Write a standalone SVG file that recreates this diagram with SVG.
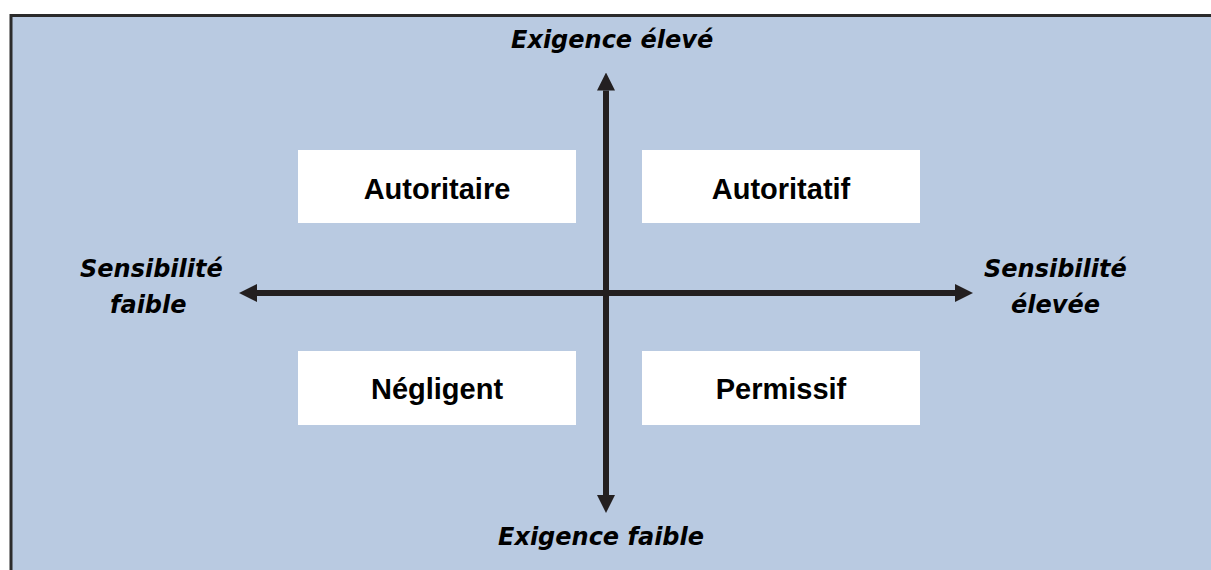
<svg xmlns="http://www.w3.org/2000/svg" width="1211" height="570" viewBox="0 0 1211 570">
  <style>
    .frame { fill: #b9cae1; stroke: #2b2b2b; stroke-width: 3; }
    .box { fill: #ffffff; stroke: none; }
    .boxtxt { font-family: "Liberation Sans", Arial, sans-serif; font-weight: bold; font-size: 29px; fill: #000000; text-anchor: middle; }
    .axtxt { font-family: "DejaVu Sans", Verdana, sans-serif; font-weight: bold; font-style: italic; font-size: 24px; fill: #000000; }
    .axis { stroke: #231f20; stroke-width: 6; fill: none; }
  </style>
  <defs>
    <marker id="arrow" markerUnits="userSpaceOnUse" markerWidth="18" markerHeight="18" refX="0" refY="9" orient="auto-start-reverse">
      <path d="M0,0 L18,9 L0,18 Z" fill="#231f20"/>
    </marker>
  </defs>

  <rect class="frame" x="11" y="15.5" width="1215" height="570"/>

  <g id="connectors">
    <line class="axis" x1="257" y1="293" x2="955" y2="293" marker-start="url(#arrow)" marker-end="url(#arrow)"/>
    <line class="axis" x1="606" y1="90.5" x2="606" y2="495" marker-start="url(#arrow)" marker-end="url(#arrow)"/>
  </g>

  <g id="node-autoritaire">
    <rect class="box" x="298" y="150" width="278" height="73"/>
    <text class="boxtxt" x="437" y="199">Autoritaire</text>
  </g>
  <g id="node-autoritatif">
    <rect class="box" x="642" y="150" width="278" height="73"/>
    <text class="boxtxt" x="781" y="199">Autoritatif</text>
  </g>
  <g id="node-negligent">
    <rect class="box" x="298" y="351" width="278" height="74"/>
    <text class="boxtxt" x="437" y="399">Négligent</text>
  </g>
  <g id="node-permissif">
    <rect class="box" x="642" y="351" width="278" height="74"/>
    <text class="boxtxt" x="781" y="399">Permissif</text>
  </g>

  <g id="label-exigence-eleve">
    <text class="axtxt" x="511" y="48">Exigence élevé</text>
  </g>
  <g id="label-exigence-faible">
    <text class="axtxt" x="498" y="545">Exigence faible</text>
  </g>
  <g id="label-sensibilite-faible">
    <text class="axtxt" x="80" y="277">Sensibilité</text>
    <text class="axtxt" x="110" y="313">faible</text>
  </g>
  <g id="label-sensibilite-elevee">
    <text class="axtxt" x="984" y="277">Sensibilité</text>
    <text class="axtxt" x="1011" y="313">élevée</text>
  </g>
</svg>
